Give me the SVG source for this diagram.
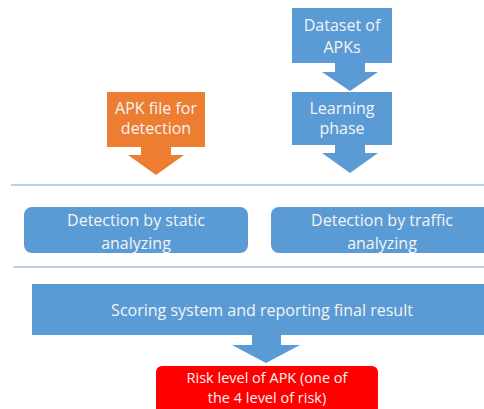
<svg xmlns="http://www.w3.org/2000/svg" width="484" height="409" viewBox="0 0 484 409">
<style>
.b{fill:#5b9bd5}
.o{fill:#ed7d31}
.r{fill:#ff0000}
.t{font-family:"Open Sans","Liberation Sans",sans-serif;font-size:16px;fill:#f4f4f4;text-anchor:middle}
.s{font-size:14.5px}
.ln{stroke:#7ea6cf;stroke-width:1.2;fill:none}
</style>
<rect width="484" height="409" fill="#ffffff"/>
<g id="connectors">
<line class="ln" x1="11" y1="185" x2="484" y2="185"/>
<line class="ln" x1="13" y1="267" x2="484" y2="267"/>
</g>
<g id="dataset">
<path class="b" d="M292,8H392V63H365V72H378L350,91L322,72H335V63H292Z"/>
<text class="t" x="342" y="31">Dataset of</text>
<text class="t" x="342" y="53">APKs</text>
</g>
<g id="learning">
<path class="b" d="M292,92H392V145H365V153H378L350,173L322,153H335V145H292Z"/>
<text class="t" x="342" y="114">Learning</text>
<text class="t" x="342" y="134">phase</text>
</g>
<g id="apkfile">
<path class="o" d="M107,92H205V147H171V155H184L156,175L128,155H141V147H107Z"/>
<text class="t" x="156" y="114">APK file for</text>
<text class="t" x="156" y="134">detection</text>
</g>
<g id="static">
<rect class="b" x="24" y="207" width="224" height="46" rx="8"/>
<text class="t" x="136" y="226">Detection by static</text>
<text class="t" x="136" y="249">analyzing</text>
</g>
<g id="traffic">
<rect class="b" x="271" y="207" width="230" height="46" rx="8"/>
<text class="t" x="382" y="226">Detection by traffic</text>
<text class="t" x="382" y="249">analyzing</text>
</g>
<g id="scoring">
<path class="b" d="M32,284H490V335H281V345H300L266,363L232,345H252V335H32Z"/>
<text class="t" x="262" y="316">Scoring system and reporting final result</text>
</g>
<g id="risk">
<rect class="r" x="156" y="366" width="222" height="50" rx="6"/>
<text class="t s" x="267" y="383">Risk level of APK (one of</text>
<text class="t s" x="267" y="403">the 4 level of risk)</text>
</g>
</svg>
